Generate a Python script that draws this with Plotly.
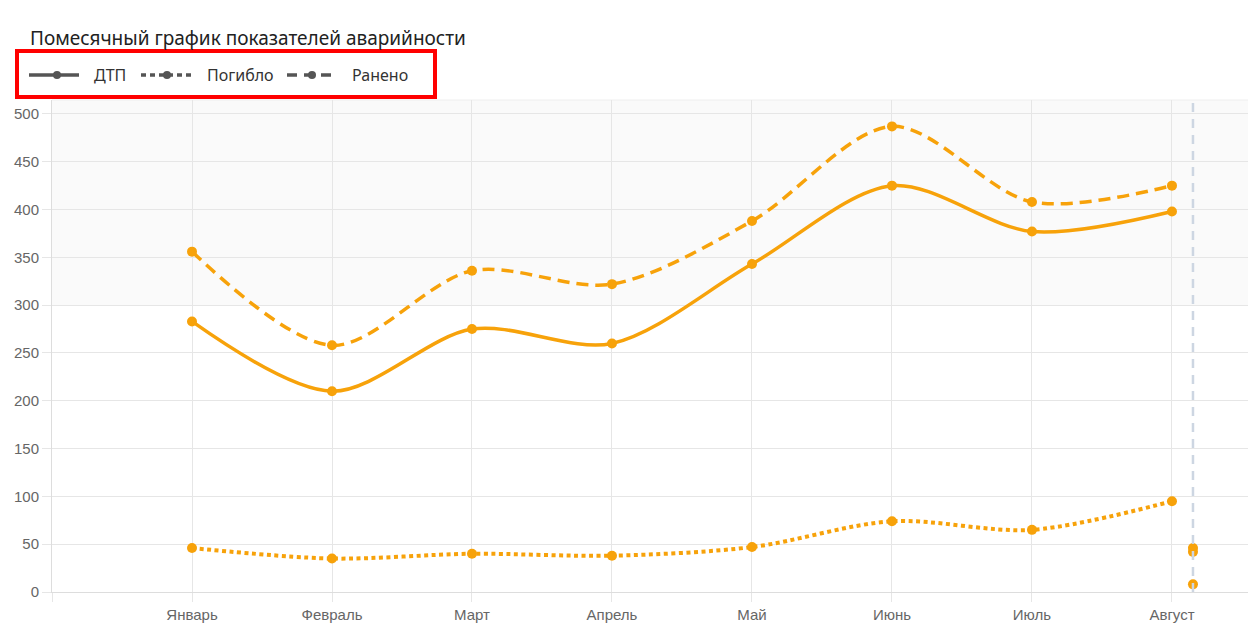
import plotly.graph_objects as go

# Monthly accident statistics
months = ["Январь", "Февраль", "Март", "Апрель", "Май", "Июнь", "Июль", "Август"]
dtp = [283, 210, 275, 260, 343, 425, 377, 398]
killed = [46, 35, 40, 38, 47, 74, 65, 95]
injured = [356, 258, 336, 322, 388, 487, 408, 425]

# partial data for the current month (marker on the "today" line)
current_pos = 7.15
current_dtp = 42
current_killed = 8
current_injured = 46

ORANGE = "#f7a20a"
LEGEND_GRAY = "#555555"
GRID = "#e6e6e6"
TICK_FONT = dict(family="Liberation Sans, Arial, sans-serif", size=15, color="#666666")
TEXT_FONT = "Noto Sans, Open Sans, sans-serif"

W, H = 1248, 624
L, R, T, B = 52, 0, 100, 32
PW, PH = W - L - R, H - T - B


def px_x(px):
    return (px - L) / PW


def px_y(py):
    return (H - B - py) / PH


x = list(range(len(months)))

fig = go.Figure()

series = [
    ("ДТП", dtp, "solid", 3.5),
    ("Погибло", killed, "4px,3.5px", 4),
    ("Ранено", injured, "12px,7px", 3.5),
]

for name, vals, dash, w in series:
    fig.add_trace(go.Scatter(
        x=x, y=vals, mode="lines+markers", name=name, showlegend=False,
        line=dict(color=ORANGE, width=w, dash=dash, shape="spline", smoothing=0.9),
        marker=dict(color=ORANGE, size=10),
        hoverinfo="y",
    ))

# current month marker line and its points
fig.add_shape(type="line", xref="x", yref="paper", x0=current_pos, x1=current_pos,
              y0=0, y1=1, line=dict(color="#cdd6e2", width=2.5, dash="9px,7px"))
fig.add_trace(go.Scatter(
    x=[current_pos] * 3, y=[current_dtp, current_injured, current_killed],
    mode="markers", showlegend=False,
    marker=dict(color=ORANGE, size=10), hoverinfo="y",
))

# shaded upper band
fig.add_shape(type="rect", xref="paper", yref="y", x0=0, x1=1, y0=300, y1=515,
              fillcolor="#fafafa", line_width=0, layer="below")
fig.add_shape(type="line", xref="paper", yref="paper", x0=0, x1=1, y0=1, y1=1,
              line=dict(color="#eeeeee", width=1), layer="below")

# legend: line sample with a dot, followed by the series name
legend_items = [
    ("ДТП", "solid", 29, 57, 92),
    ("Погибло", "5px,4px", 141, 167, 205),
    ("Ранено", "10px,7px", 287, 312, 350),
]
ly = 75
for name, dash, x0, dot, tx in legend_items:
    fig.add_shape(type="line", xref="paper", yref="paper",
                  x0=px_x(x0), x1=px_x(x0 + 50), y0=px_y(ly), y1=px_y(ly),
                  line=dict(color=LEGEND_GRAY, width=3.5, dash=dash))
    fig.add_shape(type="circle", xref="paper", yref="paper",
                  x0=px_x(dot - 4), x1=px_x(dot + 4), y0=px_y(ly + 4), y1=px_y(ly - 4),
                  fillcolor=LEGEND_GRAY, line_width=0)
    fig.add_annotation(text=name, xref="paper", yref="paper",
                       x=px_x(tx), y=px_y(ly), xanchor="left", yanchor="middle",
                       showarrow=False,
                       font=dict(family=TEXT_FONT, size=16, color="#333333"))

# red frame round the legend
fig.add_shape(type="rect", xref="paper", yref="paper",
              x0=px_x(17), x1=px_x(435), y0=px_y(97), y1=px_y(51),
              line=dict(color="#ff0000", width=4), fillcolor="rgba(0,0,0,0)")

fig.update_layout(
    width=W, height=H,
    margin=dict(l=L, r=R, t=T, b=B),
    paper_bgcolor="white", plot_bgcolor="white",
    showlegend=False,
    title=dict(text="Помесячный график показателей аварийности",
               x=30 / W, xanchor="left", y=1 - 38 / H, yanchor="middle",
               font=dict(family=TEXT_FONT, size=19, color="#222222")),
    xaxis=dict(range=[-1, 7.543], tickvals=[-1] + x, ticktext=[""] + months,
               showgrid=True, gridcolor=GRID, gridwidth=1,
               ticks="outside", ticklen=9, tickcolor=GRID,
               showline=True, linecolor="#dddddd", linewidth=1,
               tickfont=TICK_FONT, zeroline=False, fixedrange=True),
    yaxis=dict(range=[0, 514.6], tickvals=list(range(0, 501, 50)),
               showgrid=True, gridcolor=GRID, gridwidth=1,
               ticks="outside", ticklen=9, tickcolor=GRID,
               showline=True, linecolor="#dddddd", linewidth=1,
               tickfont=TICK_FONT, zeroline=False, fixedrange=True),
    hovermode="closest",
)

fig.write_html("out.html")
